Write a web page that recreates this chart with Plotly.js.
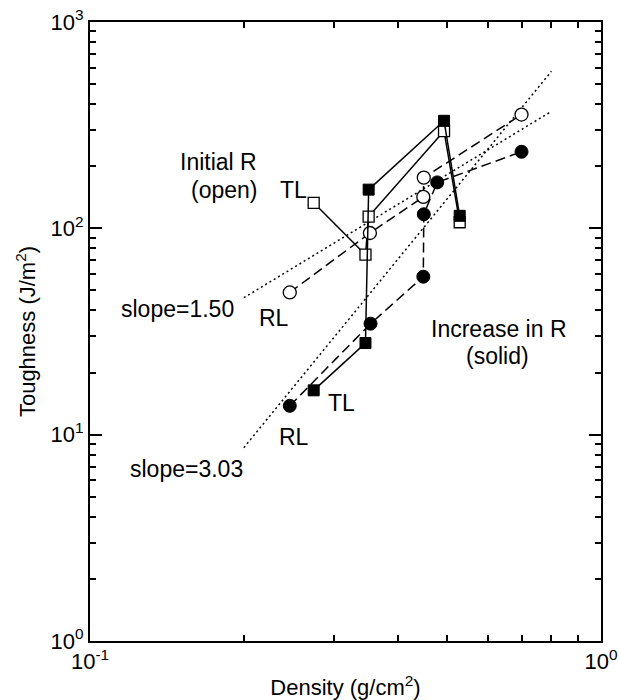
<!DOCTYPE html>
<html>
<head>
<meta charset="utf-8">
<script src="https://cdn.plot.ly/plotly-3.0.1.min.js"></script>
<style>html,body{margin:0;padding:0;background:#fff;}</style>
</head>
<body>
<div id="chart" style="width:620px;height:700px;"></div>
<script>
// ---- Data ----
// TL orientation, initial R (open squares)
const tlInitX = [0.274, 0.346, 0.351, 0.493, 0.529];
const tlInitY = [133, 74.5, 114, 296, 107];
// TL orientation, increase in R (solid squares)
const tlIncX = [0.274, 0.346, 0.351, 0.493, 0.529];
const tlIncY = [16.4, 27.8, 154, 332, 115];
// RL orientation, initial R (open circles)
const rlInitX = [0.246, 0.353, 0.449, 0.450, 0.699];
const rlInitY = [48.9, 94.9, 142, 176, 356];
// RL orientation, increase in R (solid circles)
const rlIncX = [0.246, 0.354, 0.449, 0.450, 0.478, 0.699];
const rlIncY = [13.8, 34.5, 58.3, 117, 167, 235];
// Power-law guide lines (end points)
const fit150X = [0.2, 0.8];
const fit150Y = [46.1, 369];
const fit303X = [0.2, 0.8];
const fit303Y = [8.65, 577];
// Axis ticks
const xTickVals = [0.1, 1];
const xTickText = ['10<sup>-1</sup>', '10<sup>0</sup>'];
const yTickVals = [1, 10, 100, 1000];
const yTickText = ['10<sup>0</sup>', '10<sup>1</sup>', '10<sup>2</sup>', '10<sup>3</sup>'];
const xMinorVals = [0.2, 0.3, 0.4, 0.5, 0.6, 0.7, 0.8, 0.9];
const yMinorVals = [2,3,4,5,6,7,8,9,20,30,40,50,60,70,80,90,200,300,400,500,600,700,800,900];

const FONT = 'Liberation Sans, Arial, Helvetica, sans-serif';

const traces = [
  {x: fit150X, y: fit150Y, mode: 'lines', line: {color: '#000', width: 1.5, dash: '2px,3px'}, hoverinfo: 'skip'},
  {x: fit303X, y: fit303Y, mode: 'lines', line: {color: '#000', width: 1.5, dash: '2px,3px'}, hoverinfo: 'skip'},
  {x: tlInitX, y: tlInitY, mode: 'lines+markers', line: {color: '#000', width: 1.5},
   marker: {symbol: 'square', size: 11, color: '#fff', line: {color: '#000', width: 1.3}}},
  {x: rlInitX, y: rlInitY, mode: 'lines+markers', line: {color: '#000', width: 1.5, dash: '10px,5px'},
   marker: {symbol: 'circle', size: 13, color: '#fff', line: {color: '#000', width: 1.3}}},
  {x: tlIncX, y: tlIncY, mode: 'lines+markers', line: {color: '#000', width: 1.5},
   marker: {symbol: 'square', size: 11, color: '#000', line: {color: '#000', width: 1}}},
  {x: rlIncX, y: rlIncY, mode: 'lines+markers', line: {color: '#000', width: 1.5, dash: '10px,5px'},
   marker: {symbol: 'circle', size: 13, color: '#000', line: {color: '#000', width: 1}}}
];

const axisCommon = {
  type: 'log', showline: true, linecolor: '#000', linewidth: 2, mirror: 'ticks',
  ticks: 'inside', ticklen: 12, tickwidth: 2, tickcolor: '#000',
  showgrid: false, zeroline: false, tickmode: 'array',
  tickfont: {family: FONT, size: 22, color: '#000'}
};

const ann = (text, x, y) => ({text: text, x: x, y: y, xref: 'paper', yref: 'paper',
  showarrow: false, xanchor: 'center', yanchor: 'middle', font: {family: FONT, size: 23, color: '#000'}});

const layout = {
  width: 620, height: 700,
  margin: {l: 90, r: 19, t: 22, b: 59},
  paper_bgcolor: '#fff', plot_bgcolor: '#fff',
  showlegend: false,
  font: {family: FONT, color: '#000'},
  xaxis: Object.assign({}, axisCommon, {
    range: [-1, 0], tickvals: xTickVals, ticktext: xTickText,
    minor: {tickmode: 'array', tickvals: xMinorVals, ticks: 'inside', ticklen: 6, tickwidth: 2, tickcolor: '#000', showgrid: false},
    title: {text: 'Density (g/cm<sup>2</sup>)', font: {family: FONT, size: 22, color: '#000'}}
  }),
  yaxis: Object.assign({}, axisCommon, {
    range: [0, 3], tickvals: yTickVals, ticktext: yTickText,
    minor: {tickmode: 'array', tickvals: yMinorVals, ticks: 'inside', ticklen: 6, tickwidth: 2, tickcolor: '#000', showgrid: false},
    title: {text: 'Toughness (J/m<sup>2</sup>)', font: {family: FONT, size: 22, color: '#000'}}
  }),
  annotations: [
    ann('Initial R', 0.2524, 0.7743),
    ann('(open)', 0.2613, 0.7286),
    ann('TL', 0.3979, 0.7286),
    ann('RL', 0.3601, 0.5218),
    ann('slope=1.50', 0.1716, 0.5359),
    ann('slope=3.03', 0.1888, 0.2779),
    ann('RL', 0.3992, 0.3296),
    ann('TL', 0.4926, 0.3845),
    ann('Increase in R', 0.8000, 0.5048),
    ann('(solid)', 0.7965, 0.4604)
  ]
};

Plotly.newPlot('chart', traces, layout, {staticPlot: true, displayModeBar: false});
</script>
</body>
</html>
